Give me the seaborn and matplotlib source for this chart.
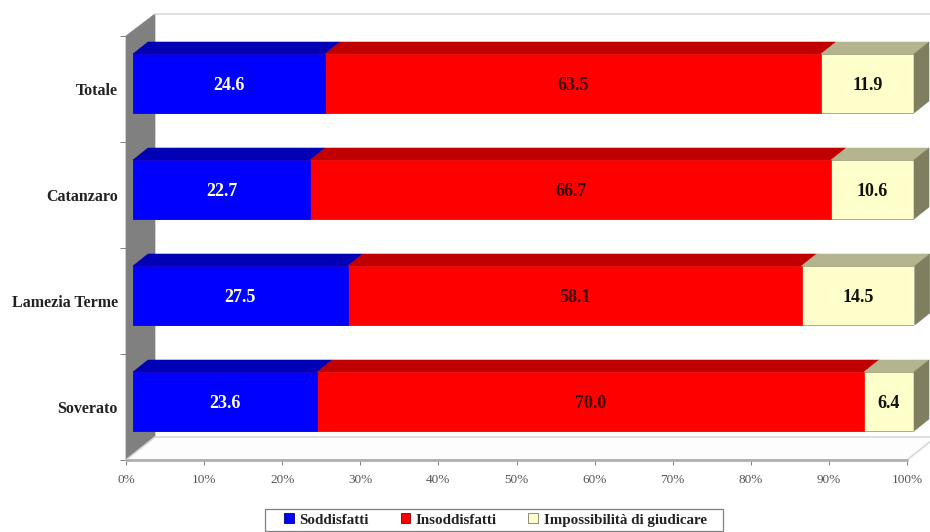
import matplotlib
matplotlib.use('Agg')
import matplotlib.pyplot as plt
from matplotlib.patches import Polygon, Rectangle
import numpy as np
import pandas as pd
import seaborn as sns

places = ['Totale', 'Catanzaro', 'Lamezia Terme', 'Soverato']
soddisfatti = [24.6, 22.7, 27.5, 23.6]
insoddisfatti = [63.5, 66.7, 58.1, 70.0]
impossibile = [11.9, 10.6, 14.5, 6.4]
names = ['Soddisfatti', 'Insoddisfatti', 'Impossibilità di giudicare']
x_ticks = [0, 10, 20, 30, 40, 50, 60, 70, 80, 90, 100]

front = ['#0000ff', '#ff0000', '#ffffcc']
top = ['#0000b4', '#c00000', '#b4b48e']
side = '#7f7f60'
text_col = ['white', '#3a0000', '#111100']

sns.set_theme(style='white')
plt.rcParams['font.family'] = ['Liberation Serif', 'DejaVu Serif']

W, H = 930, 532
fig = plt.figure(figsize=(W / 100, H / 100), dpi=100)

# box of the chart in pixels, the bars sit a bit inside of it
L, R, T, B = 126, 907, 36, 460
ax = fig.add_axes([L / W, 1 - B / H, (R - L) / W, (B - T) / H])
ax_bar = fig.add_axes([(L + 7) / W, 1 - (B - 5.5) / H, (R - L) / W, (B - T) / H])

df = pd.DataFrame({'place': places, 'a': soddisfatti, 'b': insoddisfatti, 'c': impossibile})
df['end_a'] = df['a']
df['end_b'] = df['a'] + df['b']
df['end_c'] = df['a'] + df['b'] + df['c']

# walls and floor
dx = 29 / (R - L)
dy = 23 / (B - T)
tr = ax.transAxes
ax.add_patch(Polygon([(0, 0), (dx, dy), (dx, 1 + dy * 0.96), (0, 1)], closed=True,
                     transform=tr, facecolor='#808080', edgecolor='#808080', lw=0.5, clip_on=False))
ax.add_patch(Polygon([(0, 0), (dx, dy), (1 + dx, dy), (1, 0)], closed=True,
                     transform=tr, facecolor='#fdfdfd', edgecolor='#d4dada', lw=1.2, clip_on=False))
ax.plot([dx, 1 + dx], [1 + dy * 0.96, 1 + dy * 0.96], transform=tr, color='#d4dcdc', lw=1.2, clip_on=False)
ax.plot([0, 1], [0, 0], transform=tr, color='#b0b0b0', lw=2, clip_on=False)

ax.set_xlim(0, 100)
ax.set_ylim(len(places) - 0.5, -0.5)
ax.set_xticks(x_ticks, [f'{v}%' for v in x_ticks])
ax.set_yticks(range(len(places)), places)
ax.set_yticks(np.arange(len(places) + 1) - 0.5, minor=True)
ax.tick_params(axis='x', length=3.5, width=0.7, color='#808080', labelsize=9.5, labelcolor='#555555', pad=6.5, bottom=True)
ax.tick_params(axis='y', which='major', length=0, labelsize=11.5, pad=6, labelcolor='#222222')
ax.tick_params(axis='y', which='minor', length=4, width=0.7, color='#808080', left=True)
for lab in ax.get_yticklabels():
    lab.set_fontweight('bold')
for s in ax.spines.values():
    s.set_visible(False)

# stacked by overdrawing, longest first
for col, name, c in zip(['end_c', 'end_b', 'end_a'], names[::-1], front[::-1]):
    sns.barplot(data=df, y='place', x=col, ax=ax_bar, color=c, saturation=1, width=59 / 106,
                label=name, edgecolor=c, linewidth=0.5)
for bar in ax_bar.patches[:len(places)]:
    bar.set_edgecolor('#8a8a60')

ax_bar.set_xlim(0, 100)
ax_bar.set_ylim(len(places) - 0.5, -0.5)
ax_bar.axis('off')
ax_bar.patch.set_alpha(0)
if ax_bar.get_legend():
    ax_bar.get_legend().remove()

# 3d look of the bars, from the same numbers
bar_dx = 15 / (R - L) * 100
bar_dy = 12 / 106
half = 59 / 106 / 2
for k in range(len(places)):
    starts = [0, df['end_a'][k], df['end_b'][k]]
    ends = [df['end_a'][k], df['end_b'][k], df['end_c'][k]]
    yt = k - half
    yb = k + half
    for s, e, c in zip(starts, ends, top):
        ax_bar.add_patch(Polygon([(s, yt), (s + bar_dx, yt - bar_dy), (e + bar_dx, yt - bar_dy), (e, yt)],
                                 closed=True, facecolor=c, edgecolor=c, lw=0.4, clip_on=False, zorder=1))
    e = ends[-1]
    ax_bar.add_patch(Polygon([(e, yt), (e + bar_dx, yt - bar_dy), (e + bar_dx, yb - bar_dy), (e, yb)],
                             closed=True, facecolor=side, edgecolor=side, lw=0.4, clip_on=False, zorder=1))
    vals = [soddisfatti[k], insoddisfatti[k], impossibile[k]]
    for s, e, v, c in zip(starts, ends, vals, text_col):
        ax_bar.text((s + e) / 2, k + 0.015, f'{v:.1f}', ha='center', va='center', color=c,
                    fontsize=13, fontweight='bold', zorder=5)

handles, labels = ax_bar.get_legend_handles_labels()
order = [labels.index(n) for n in names]
# frame drawn apart, its side margins are not equal in the original
fig.add_artist(Rectangle((265 / W, 1 - 531 / H), 458 / W, 22 / H, transform=fig.transFigure,
                         facecolor='white', edgecolor='#808080', lw=0.9))
leg = fig.legend([handles[i] for i in order], names, loc='center', bbox_to_anchor=(495.5 / W, 1 - 520 / H),
                 ncol=3, frameon=False, prop={'size': 10.8, 'weight': 'bold'},
                 handlelength=0.65, handleheight=0.65, handletextpad=0.37, columnspacing=2.1,
                 borderpad=0.2, labelcolor='#222222')
for h, c in zip(leg.legend_handles, ['#000080', '#800000', '#808060']):
    h.set_edgecolor(c)
    h.set_linewidth(0.6)

fig.savefig('out.png', dpi=100)
